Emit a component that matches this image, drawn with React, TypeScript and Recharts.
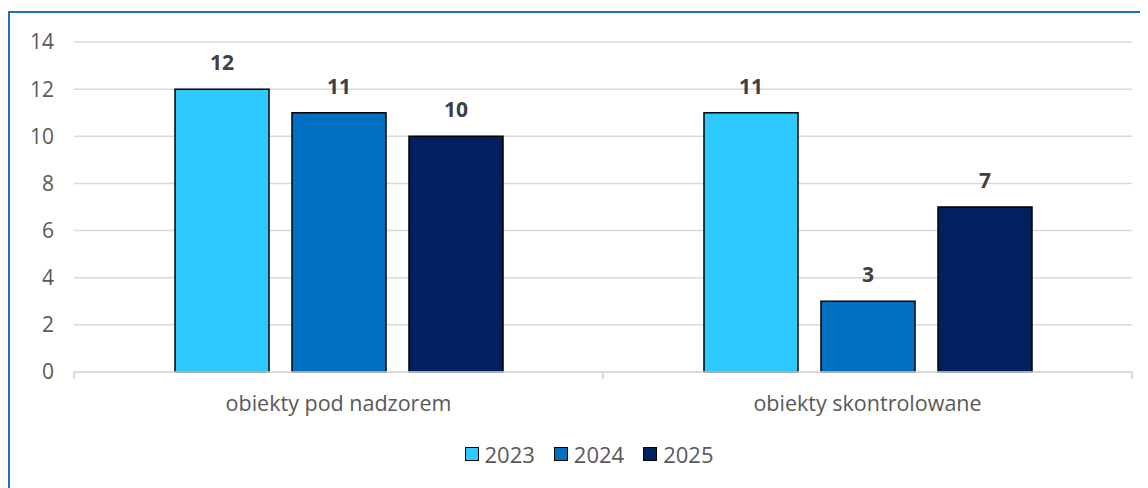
import React from "react";
import {
  BarChart,
  Bar,
  XAxis,
  YAxis,
  CartesianGrid,
  Legend,
  LabelList,
} from "recharts";

const categories = ["obiekty pod nadzorem", "obiekty skontrolowane"];
const years = ["2023", "2024", "2025"];
const values2023 = [12, 11];
const values2024 = [11, 3];
const values2025 = [10, 7];
const yTicks = [0, 2, 4, 6, 8, 10, 12, 14];

const colors = ["#2DC9FF", "#0070C0", "#002060"];
const FONT = "'Open Sans', sans-serif";

const CHART_W = 1138;
const CHART_H = 475;
const MARGIN = { top: 29, right: 16, left: 0, bottom: 0 };
const Y_W = 64;
const BAND = (CHART_W - MARGIN.left - MARGIN.right - Y_W) / categories.length;

const data = categories.map((name, i) => ({
  name,
  y2023: values2023[i],
  y2024: values2024[i],
  y2025: values2025[i],
}));

const CategoryTick = (props: any) => {
  const { x, y, payload, index } = props;
  const half = BAND / 2;
  return (
    <g>
      <line x1={x - half} x2={x - half} y1={y} y2={y + 7} stroke="#D9D9D9" strokeWidth={2} />
      {index === categories.length - 1 && (
        <line x1={x + half} x2={x + half} y1={y} y2={y + 7} stroke="#D9D9D9" strokeWidth={2} />
      )}
      <text x={x} y={y + 39} textAnchor="middle" fill="#595959" fontSize={21.5} fontFamily={FONT}>
        {payload.value}
      </text>
    </g>
  );
};

const LegendContent = () => (
  <div style={{ display: "flex", justifyContent: "center", gap: 19, fontFamily: FONT }}>
    {years.map((yr, i) => (
      <div key={yr} style={{ display: "flex", alignItems: "center", gap: 6 }}>
        <span
          style={{
            display: "inline-block",
            width: 12,
            height: 12,
            background: colors[i],
            border: "1.5px solid #000",
          }}
        />
        <span style={{ fontSize: 22, color: "#595959" }}>{yr}</span>
      </div>
    ))}
  </div>
);

export default function App() {
  return (
    <div
      style={{
        marginTop: 3,
        width: CHART_W,
        height: CHART_H,
        borderTop: "2px solid #1F6FC5",
        borderLeft: "2px solid #1F6FC5",
        background: "#fff",
      }}
    >
      <BarChart
        width={CHART_W}
        height={CHART_H}
        data={data}
        margin={MARGIN}
        barCategoryGap={101}
        barGap={23}
      >
        <CartesianGrid vertical={false} stroke="#D9D9D9" strokeWidth={1.5} />
        <XAxis
          dataKey="name"
          height={86}
          axisLine={{ stroke: "#D9D9D9", strokeWidth: 1.5 }}
          tickLine={false}
          tickSize={0}
          tickMargin={0}
          tick={<CategoryTick />}
          interval={0}
        />
        <YAxis
          width={Y_W}
          domain={[0, 14]}
          ticks={yTicks}
          axisLine={false}
          tickLine={false}
          tickMargin={14}
          tick={{ fill: "#595959", fontSize: 21, fontFamily: FONT }}
        />
        <Legend
          verticalAlign="bottom"
          content={<LegendContent />}
          wrapperStyle={{ left: 0, bottom: 19, width: 1158 }}
        />
        {["y2023", "y2024", "y2025"].map((key, i) => (
          <Bar
            key={key}
            dataKey={key}
            name={years[i]}
            fill={colors[i]}
            stroke="#000"
            strokeWidth={1.5}
            isAnimationActive={false}
          >
            <LabelList
              dataKey={key}
              position="top"
              offset={19}
              fill="#404040"
              fontSize={21}
              fontWeight="bold"
              fontFamily={FONT}
            />
          </Bar>
        ))}
      </BarChart>
    </div>
  );
}
